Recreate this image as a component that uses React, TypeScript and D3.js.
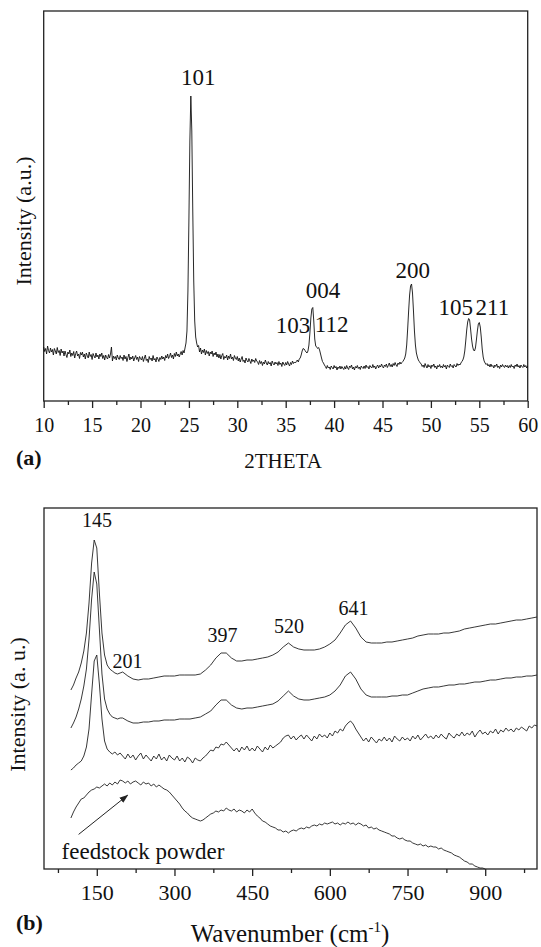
import React, { useEffect, useRef } from "react";
import * as d3 from "d3";

// ---- (a) XRD pattern: rows of [start 2theta, step, intensities]
const xrdRows: [number, number, number[]][] = [
  [10.0, 0.1, [540, 495, 525, 470, 550, 505, 480, 530, 490, 515, 460, 525, 500, 470, 535, 485, 505, 455, 520, 480, 500]],
  [12.1, 0.1, [450, 500, 465, 435, 490, 470, 510, 445, 480, 455, 495, 430, 475, 500, 450, 470, 425, 485, 460, 490]],
  [14.1, 0.1, [440, 470, 420, 480, 455, 430, 490, 445, 465, 415, 475, 450, 430, 480, 440, 460, 420, 470, 445, 480]],
  [16.1, 0.1, [425, 455, 410, 460, 435, 420, 465, 430, 470, 540, 400, 450, 425, 445, 410, 460, 430, 415, 455, 425]],
  [18.1, 0.1, [440, 405, 460, 420, 445, 395, 435, 470, 410, 440, 420, 450, 400, 430, 455, 415, 440, 395, 445, 425]],
  [20.1, 0.1, [410, 445, 395, 430, 460, 405, 420, 385, 445, 415, 430, 400, 455, 410, 425, 390, 440, 420, 395, 435]],
  [22.1, 0.1, [415, 450, 420, 440, 405, 455, 430, 470, 425, 445, 480, 435, 460, 420, 475, 445, 490, 450, 470, 440]],
  [24.1, 0.1, [470, 495, 460, 505, 480, 530, 580, 700, 1100, 1800, 2600, 3050, 2700, 1900, 1200, 800, 640, 580, 540]],
  [26.0, 0.1, [555, 490, 530, 470, 510, 485, 520, 460, 505, 475, 495, 450, 490, 470, 500, 445, 480, 460, 490, 440, 470]],
  [28.1, 0.1, [430, 465, 420, 455, 475, 415, 445, 430, 460, 410, 450, 425, 470, 420, 440, 405, 455, 430, 415, 445]],
  [30.1, 0.1, [400, 430, 390, 420, 445, 395, 410, 380, 430, 405, 390, 425, 400, 375, 420, 395, 410, 385, 425, 400]],
  [32.1, 0.1, [390, 365, 405, 375, 395, 355, 390, 370, 410, 380, 360, 395, 370, 385, 350, 400, 375, 360, 390, 370]],
  [34.1, 0.1, [385, 355, 395, 365, 380, 345, 390, 370, 355, 385, 360, 395, 370, 350, 385, 365, 400, 375, 390, 380]],
  [36.1, 0.1, [395, 410, 390, 420, 430, 460, 500, 525, 520, 505, 490, 480, 500, 560, 680, 830, 920, 935, 800, 620,
    550, 540, 525, 535, 510, 470, 430, 395, 380, 360]],
  [39.1, 0.1, [345, 325, 355, 330, 340, 315, 350, 335, 320, 355, 330, 345, 310, 340, 325, 350, 320, 345, 330, 315]],
  [41.1, 0.1, [345, 320, 355, 330, 315, 350, 335, 360, 320, 340, 310, 345, 330, 355, 325, 340, 315, 350, 335, 325]],
  [43.1, 0.1, [350, 325, 360, 335, 345, 320, 355, 340, 330, 365, 335, 350, 320, 345, 360, 330, 355, 340, 370, 345]],
  [45.1, 0.1, [330, 360, 345, 370, 335, 355, 380, 345, 365, 340, 375, 355, 385, 360, 345, 380, 365, 390, 370, 385]],
  [47.1, 0.1, [395, 410, 430, 470, 560, 720, 900, 1060, 1150, 1170, 1080, 900, 700, 560, 480, 440, 410, 395, 380]],
  [49.0, 0.1, [370, 345, 360, 335, 375, 350, 330, 365, 340, 355, 325, 360, 345, 370, 335, 350, 320, 355, 340, 365, 335]],
  [51.1, 0.1, [350, 330, 365, 340, 355, 320, 360, 345, 335, 370, 345, 355, 330, 365, 350, 340, 375, 355, 370, 360]],
  [53.1, 0.1, [380, 395, 410, 440, 500, 600, 710, 790, 825, 810, 720, 620, 550, 510, 500, 530, 610, 700, 770, 785,
    740, 640, 520, 440, 400, 380, 365, 375, 350]],
  [56.0, 0.1, [365, 340, 370, 345, 355, 330, 360, 345, 370, 335, 350, 325, 360, 340, 365, 345, 335, 360, 340, 355, 330]],
  [58.1, 0.1, [355, 335, 365, 340, 350, 325, 360, 345, 370, 340, 355, 330, 360, 345, 335, 365, 340, 355, 330, 350]],
];
const xrdTicks = [10, 15, 20, 25, 30, 35, 40, 45, 50, 55, 60];
const xrdMinor = [12.5, 17.5, 22.5, 27.5, 32.5, 37.5, 42.5, 47.5, 52.5, 57.5];
// label text, 2theta, intensity of the text baseline
const xrdLabels: [string, number, number][] = [
  ["101", 25.97, 3160],
  ["004", 38.85, 1033],
  ["103", 35.75, 680],
  ["112", 39.75, 693],
  ["200", 48.13, 1233],
  ["105", 52.58, 860],
  ["211", 56.35, 860],
];

// ---- (b) Raman spectra: rows of [start, step, values]
const raman1: [number, number, number[]][] = [
  [100, 5, [179, 184, 191, 197, 206, 218, 236, 266, 306, 329, 321, 276, 236, 214, 204, 200, 198, 196, 195, 196, 197]],
  [210, 10, [193, 190, 189, 190, 190, 191, 192, 193, 193, 193,
    194, 194, 194, 194, 195, 199, 204, 211, 216, 216,
    211, 208, 208, 209, 209, 210, 211, 212, 214, 217,
    222, 226, 222, 220, 219, 219, 219, 220, 222, 225,
    229, 236, 244, 248, 241, 232, 227, 226, 226, 226,
    227, 227, 228, 229, 230, 231, 233, 234, 235, 235,
    235, 236, 236, 237, 238, 240, 241, 242, 243, 244,
    245, 245, 246, 247, 248, 249, 249, 250, 251, 252]],
];
const raman2: [number, number, number[]][] = [
  [100, 5, [141, 146, 152, 160, 170, 183, 200, 230, 270, 297, 285, 240, 195, 170, 160, 155, 152, 151, 150, 151, 151]],
  [210, 10, [148, 146, 146, 147, 147, 148, 148, 149, 149, 149,
    150, 150, 150, 151, 152, 155, 158, 164, 169, 169,
    164, 161, 160, 161, 161, 162, 163, 164, 165, 168,
    173, 178, 173, 170, 169, 169, 170, 171, 172, 174,
    178, 184, 193, 197, 190, 180, 174, 172, 172, 172,
    172, 173, 173, 174, 174, 176, 178, 180, 181, 182,
    182, 183, 184, 184, 185, 185, 186, 187, 187, 188,
    189, 189, 190, 191, 191, 192, 192, 193, 193, 194]],
];
const raman3: [number, number, number[]][] = [
  [100, 5, [99, 101, 104, 106, 108, 113, 122, 140, 175, 208, 214, 185, 150, 128, 120, 117, 115, 117, 114, 116]],
  [200, 5, [113, 110, 115, 111, 114, 109, 113, 116, 110, 114, 111]],
  [255, 5, [108, 113, 110, 115, 109, 112, 108, 114, 111, 109]],
  [305, 5, [113, 108, 111, 107, 112, 110, 106, 111, 109, 108]],
  [355, 5, [111, 113, 116, 119, 118, 122, 121, 125, 124, 127]],
  [405, 5, [124, 121, 118, 121, 117, 122, 119, 123, 118, 121]],
  [455, 5, [118, 123, 120, 117, 122, 119, 124, 121, 123, 125]],
  [505, 5, [127, 131, 133, 134, 130, 133, 129, 132, 134, 130]],
  [555, 5, [134, 131, 128, 133, 130, 135, 132, 134, 131, 136]],
  [605, 5, [133, 138, 136, 140, 138, 143, 146, 148, 145, 140]],
  [655, 5, [136, 132, 128, 131, 127, 132, 129, 126, 130, 128]],
  [705, 5, [132, 128, 131, 127, 133, 130, 128, 132, 129, 131]],
  [755, 5, [128, 133, 130, 134, 129, 132, 135, 131, 133, 130]],
  [805, 5, [134, 131, 135, 132, 130, 136, 133, 131, 135, 133]],
  [855, 5, [137, 133, 136, 134, 138, 132, 136, 139, 135, 137]],
  [905, 5, [134, 138, 136, 140, 135, 139, 137, 141, 138, 140]],
  [955, 5, [137, 141, 139, 142, 140, 138, 143, 141, 144, 143]],
];
const raman4: [number, number, number[]][] = [
  [100, 5, [51, 57, 62, 66, 70, 71, 74, 77, 79, 80, 82]],
  [155, 5, [81, 83, 85, 83, 86, 84, 87, 85, 89, 88]],
  [205, 5, [86, 88, 85, 87, 88, 86, 84, 87, 85, 86]],
  [255, 5, [83, 85, 82, 84, 82, 80, 79, 77, 74, 71]],
  [305, 5, [68, 65, 61, 58, 56, 53, 51, 50, 49, 48]],
  [355, 5, [49, 51, 53, 55, 56, 58, 57, 59, 58, 61]],
  [405, 5, [59, 58, 60, 57, 59, 58, 56, 59, 57, 60]],
  [455, 5, [56, 53, 51, 48, 47, 45, 43, 42, 41, 39]],
  [505, 5, [39, 37, 38, 36, 38, 39, 38, 40, 41, 40]],
  [555, 5, [42, 41, 43, 44, 43, 45, 44, 46, 45, 46]],
  [605, 5, [47, 45, 46, 44, 46, 45, 47, 45, 46, 44]],
  [655, 5, [46, 45, 43, 44, 41, 42, 40, 41, 39, 38]],
  [705, 5, [37, 36, 35, 33, 33, 31, 30, 31, 29, 28]],
  [755, 5, [28, 26, 25, 24, 25, 23, 24, 22, 23, 22]],
  [805, 5, [22, 20, 21, 19, 18, 17, 16, 14, 13, 12]],
  [855, 5, [10, 8, 7, 5, 5, 3, 2, 1, 1, 0]],
];
const ramanSeries = [raman1, raman2, raman3, raman4];
const ramanTicks = [150, 300, 450, 600, 750, 900];
const ramanMinor = [75, 225, 375, 525, 675, 825, 975];
const ramanLabels: [string, number, number][] = [
  ["145", 150.4, 341.6],
  ["201", 209.5, 201.4],
  ["397", 392.7, 227.4],
  ["520", 521.3, 235.8],
  ["641", 645.5, 254.5],
];
const arrowFrom: [number, number] = [114.9, 34.6];
const arrowTo: [number, number] = [209.5, 73.8];

const FONT = "'Liberation Serif', 'Times New Roman', serif";

const expandRows = (rows: [number, number, number[]][]) =>
  rows.flatMap(([s, step, vals]) => vals.map((v, i) => [s + i * step, v] as [number, number]));

const App = () => {
  const ref = useRef<SVGSVGElement>(null);

  useEffect(() => {
    const svg = d3.select(ref.current);
    svg.selectAll("*").remove();

    svg.append("defs").append("marker")
      .attr("id", "arrowhead")
      .attr("viewBox", "0 0 10 10")
      .attr("refX", 9).attr("refY", 5)
      .attr("markerWidth", 9).attr("markerHeight", 9)
      .attr("orient", "auto")
      .append("path").attr("d", "M0,1.5L10,5L0,8.5Z").attr("fill", "#222");

    // ---------- panel (a)
    const xa = d3.scaleLinear().domain([10, 60]).range([43.7, 527.7]);
    const ya = d3.scaleLinear().domain([0, 3900]).range([401, 11]);

    svg.append("rect")
      .attr("x", xa(10)).attr("y", ya(3900))
      .attr("width", xa(60) - xa(10)).attr("height", ya(0) - ya(3900))
      .attr("fill", "none").attr("stroke", "#222").attr("stroke-width", 1.3);

    const axA = svg.append("g").attr("transform", `translate(0,${ya(0)})`)
      .call(d3.axisBottom(xa).tickValues(xrdTicks).tickSize(7).tickPadding(9.5).tickFormat(d3.format("d")));
    axA.select(".domain").remove();
    axA.selectAll("line").attr("stroke", "#222").attr("stroke-width", 1.3);
    axA.selectAll("text").attr("font-family", FONT).attr("font-size", 20).attr("fill", "#111");

    const axAm = svg.append("g").attr("transform", `translate(0,${ya(0)})`)
      .call(d3.axisBottom(xa).tickValues(xrdMinor).tickSize(4).tickFormat(() => ""));
    axAm.select(".domain").remove();
    axAm.selectAll("line").attr("stroke", "#222").attr("stroke-width", 1.3);

    svg.append("path")
      .datum(expandRows(xrdRows))
      .attr("fill", "none").attr("stroke", "#111").attr("stroke-width", 0.9)
      .attr("d", d3.line<[number, number]>().x(d => xa(d[0])).y(d => ya(d[1])));

    svg.append("g").selectAll("text").data(xrdLabels).join("text")
      .attr("x", d => xa(d[1])).attr("y", d => ya(d[2]))
      .attr("text-anchor", "middle")
      .attr("font-family", FONT).attr("font-size", 23).attr("fill", "#111")
      .text(d => d[0]);

    svg.append("text")
      .attr("transform", `translate(31,${(ya(0) + ya(3900)) / 2 + 15}) rotate(-90)`)
      .attr("text-anchor", "middle")
      .attr("font-family", FONT).attr("font-size", 22).attr("fill", "#111")
      .text("Intensity (a.u.)");

    svg.append("text")
      .attr("x", 283).attr("y", 468)
      .attr("text-anchor", "middle")
      .attr("font-family", FONT).attr("font-size", 21).attr("fill", "#111")
      .text("2THETA");

    svg.append("text")
      .attr("x", 16).attr("y", 465)
      .attr("font-family", FONT).attr("font-size", 22).attr("font-weight", "bold").attr("fill", "#111")
      .text("(a)");

    // ---------- panel (b)
    const xb = d3.scaleLinear().domain([50, 1000]).range([45, 537]);
    const yb = d3.scaleLinear().domain([0, 361]).range([869, 508]);

    svg.append("rect")
      .attr("x", 44).attr("y", yb(361))
      .attr("width", xb(1000) - 44).attr("height", yb(0) - yb(361))
      .attr("fill", "none").attr("stroke", "#222").attr("stroke-width", 1.3);

    const axB = svg.append("g").attr("transform", `translate(0,${yb(0)})`)
      .call(d3.axisBottom(xb).tickValues(ramanTicks).tickSize(7).tickPadding(8.5).tickFormat(d3.format("d")));
    axB.select(".domain").remove();
    axB.selectAll("line").attr("stroke", "#222").attr("stroke-width", 1.3);
    axB.selectAll("text").attr("font-family", FONT).attr("font-size", 22).attr("fill", "#111");

    const axBm = svg.append("g").attr("transform", `translate(0,${yb(0)})`)
      .call(d3.axisBottom(xb).tickValues(ramanMinor).tickSize(4).tickFormat(() => ""));
    axBm.select(".domain").remove();
    axBm.selectAll("line").attr("stroke", "#222").attr("stroke-width", 1.3);

    const lineB = d3.line<[number, number]>().x(d => xb(d[0])).y(d => yb(d[1]));
    ramanSeries.forEach(rows => {
      svg.append("path")
        .datum(expandRows(rows))
        .attr("fill", "none").attr("stroke", "#222").attr("stroke-width", 0.9)
        .attr("d", lineB);
    });

    svg.append("g").selectAll("text").data(ramanLabels).join("text")
      .attr("x", d => xb(d[1])).attr("y", d => yb(d[2]))
      .attr("text-anchor", "middle")
      .attr("font-family", FONT).attr("font-size", 20).attr("fill", "#111")
      .text(d => d[0]);

    svg.append("text")
      .attr("x", xb(82)).attr("y", yb(10))
      .attr("font-family", FONT).attr("font-size", 23).attr("fill", "#111")
      .text("feedstock powder");

    svg.append("line")
      .attr("x1", xb(arrowFrom[0])).attr("y1", yb(arrowFrom[1]))
      .attr("x2", xb(arrowTo[0])).attr("y2", yb(arrowTo[1]))
      .attr("stroke", "#222").attr("stroke-width", 1)
      .attr("marker-end", "url(#arrowhead)");

    svg.append("text")
      .attr("transform", `translate(25,${(yb(0) + yb(361)) / 2 + 16}) rotate(-90)`)
      .attr("text-anchor", "middle")
      .attr("font-family", FONT).attr("font-size", 22).attr("fill", "#111")
      .text("Intensity (a. u.)");

    const wn = svg.append("text")
      .attr("x", 290).attr("y", 942)
      .attr("text-anchor", "middle")
      .attr("font-family", FONT).attr("font-size", 25).attr("fill", "#111");
    wn.append("tspan").text("Wavenumber (cm");
    wn.append("tspan").attr("font-size", 15).attr("dy", -10).text("-1");
    wn.append("tspan").attr("dy", 10).text(")");

    svg.append("text")
      .attr("x", 16).attr("y", 930)
      .attr("font-family", FONT).attr("font-size", 22).attr("font-weight", "bold").attr("fill", "#111")
      .text("(b)");
  }, []);

  return (
    <svg
      ref={ref}
      width={541}
      height={947}
      style={{ position: "absolute", left: 0, top: 0, background: "#fff" }}
    />
  );
};

export default App;
